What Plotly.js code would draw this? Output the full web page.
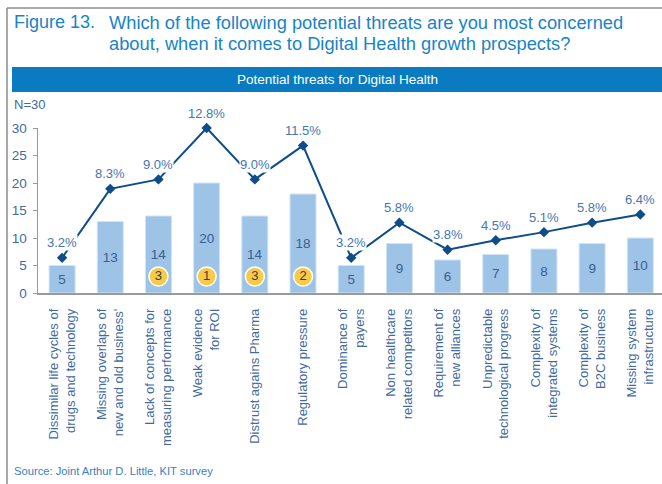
<!DOCTYPE html>
<html>
<head>
<meta charset="utf-8">
<script src="https://cdn.plot.ly/plotly-3.0.1.min.js"></script>
<style>html,body{margin:0;padding:0;background:#fff;}#chart{width:662px;height:484px;}</style>
</head>
<body>
<div id="chart"></div>
<script>
// ---- data ----
const categories = [
  "Dissimilar life cycles of<br>drugs and technology",
  "Missing overlaps of<br>new and old business'",
  "Lack of concepts for<br>measuring performance",
  "Weak evidence<br>for ROI",
  "Distrust agains Pharma",
  "Regulatory pressure",
  "Dominance of<br>payers",
  "Non healthcare<br>related competitors",
  "Requirement of<br>new alliances",
  "Unpredictable<br>technological progress",
  "Complexity of<br>integrated systems",
  "Complexity of<br>B2C business",
  "Missing system<br>infrastructure"
];
const counts = [5, 13, 14, 20, 14, 18, 5, 9, 6, 7, 8, 9, 10];
const shares = [3.2, 8.3, 9.0, 12.8, 9.0, 11.5, 3.2, 5.8, 3.8, 4.5, 5.1, 5.8, 6.4];
const ranks  = [null, null, 3, 1, 3, 2, null, null, null, null, null, null, null];
const titleLabel = "Figure 13.";
const titleLines = ["Which of the following potential threats are you most concerned",
                    "about, when it comes to Digital Health growth prospects?"];
const headerText = "Potential threats for Digital Health";
const sampleText = "N=30";
const sourceText = "Source: Joint Arthur D. Little, KIT survey";

// ---- layout geometry ----
const W = 662, H = 484;
const M = {l: 38, r: 0, t: 128, b: 191};
const PW = W - M.l - M.r, PH = H - M.t - M.b;
const px = x => (x - M.l) / PW;           // pixel -> paper x
const py = y => (H - M.b - y) / PH;       // pixel -> paper y
const RANK_Y = 3;
const FONT = '"Liberation Sans", Arial, sans-serif';
const AXIS_COL = '#9a9a9a';
const TXT = '#3f6b9e';
const TITLE_COL = '#1784c8';

const rx = [], rr = [];
ranks.forEach((r, i) => { if (r !== null) { rx.push(categories[i]); rr.push(r); } });

const traces = [
  {
    type: 'bar', x: categories, y: counts,
    marker: {color: '#9dc3e6', line: {color: '#d3e4f4', width: 1}},
    width: 0.54,
    text: counts.map(String), textposition: 'inside', insidetextanchor: 'middle',
    textangle: 0, constraintext: 'none',
    textfont: {family: FONT, size: 13.5, color: '#3b5f8e'},
    hoverinfo: 'skip', showlegend: false
  },
  {
    type: 'scatter', mode: 'markers+text', x: rx, y: rr.map(() => RANK_Y),
    text: rr.map(String), textposition: 'middle center',
    marker: {size: 19, color: '#f7ca48', line: {color: '#ffffff', width: 1.5}},
    textfont: {family: FONT, size: 13, color: '#3a3a3a'},
    cliponaxis: false, hoverinfo: 'skip', showlegend: false
  },
  {
    type: 'scatter', mode: 'lines+markers', x: categories, y: shares, yaxis: 'y2',
    line: {color: '#0f4c8a', width: 2},
    marker: {symbol: 'diamond', size: 8, color: '#0f4c8a'},
    cliponaxis: false, hoverinfo: 'skip', showlegend: false
  }
];

const annotations = shares.map((v, i) => ({
  x: categories[i], y: v, xref: 'x', yref: 'y2', yshift: 15,
  text: v.toFixed(1) + '%', showarrow: false, bgcolor: '#ffffff', borderpad: 0,
  font: {family: FONT, size: 13, color: '#4577b0'}
}));

annotations.push(
  {xref: 'paper', yref: 'paper', x: px(12), y: py(22), xanchor: 'left', yanchor: 'middle',
   text: titleLabel, showarrow: false, font: {family: FONT, size: 18, color: TITLE_COL}},
  {xref: 'paper', yref: 'paper', x: px(107), y: py(22), xanchor: 'left', yanchor: 'middle',
   text: titleLines[0], showarrow: false, font: {family: FONT, size: 18.3, color: TITLE_COL}},
  {xref: 'paper', yref: 'paper', x: px(107), y: py(43), xanchor: 'left', yanchor: 'middle',
   text: titleLines[1], showarrow: false, font: {family: FONT, size: 18.3, color: TITLE_COL}},
  {xref: 'paper', yref: 'paper', x: px(337), y: py(79.5), xanchor: 'center', yanchor: 'middle',
   text: headerText, showarrow: false, font: {family: FONT, size: 13.5, color: '#ffffff'}},
  {xref: 'paper', yref: 'paper', x: px(12), y: py(104), xanchor: 'left', yanchor: 'middle',
   text: sampleText, showarrow: false, font: {family: FONT, size: 13, color: TXT}},
  {xref: 'paper', yref: 'paper', x: px(12), y: py(471), xanchor: 'left', yanchor: 'middle',
   text: sourceText, showarrow: false, font: {family: FONT, size: 11.2, color: '#3a7fc1'}}
);

const shapes = [
  {type: 'rect', xref: 'paper', yref: 'paper', x0: px(12), x1: px(W + 2), y0: py(92), y1: py(67),
   fillcolor: '#0a7bc0', line: {width: 0}, layer: 'below'},
  {type: 'line', xref: 'paper', yref: 'paper', x0: px(7), x1: px(W + 2), y0: py(8), y1: py(8),
   line: {color: '#8c8c8c', width: 1.5}},
  {type: 'line', xref: 'paper', yref: 'paper', x0: px(7), x1: px(7), y0: py(8), y1: py(H + 2),
   line: {color: '#8c8c8c', width: 1.5}}
];

const layout = {
  width: W, height: H, margin: M,
  paper_bgcolor: '#ffffff', plot_bgcolor: '#ffffff',
  font: {family: FONT, color: TXT},
  showlegend: false, bargap: 0.46,
  xaxis: {
    type: 'category', categoryorder: 'array', categoryarray: categories,
    range: [-0.5, 12.45], showline: true, linecolor: AXIS_COL, linewidth: 1.5,
    ticks: '', tickangle: -90, showgrid: false, zeroline: false,
    tickfont: {family: FONT, size: 13, color: TXT}, ticklabelstandoff: 9
  },
  yaxis: {
    range: [0, 30], dtick: 5, showline: true, linecolor: AXIS_COL, linewidth: 1.5,
    ticks: 'outside', ticklen: 4, tickcolor: AXIS_COL, tickwidth: 1,
    showgrid: false, zeroline: false,
    tickfont: {family: FONT, size: 13.5, color: TXT}, ticklabelstandoff: 3
  },
  yaxis2: {overlaying: 'y', range: [0.6, 12.8], visible: false},
  annotations: annotations,
  shapes: shapes
};

Plotly.newPlot('chart', traces, layout, {displayModeBar: false, staticPlot: true});
</script>
</body>
</html>
